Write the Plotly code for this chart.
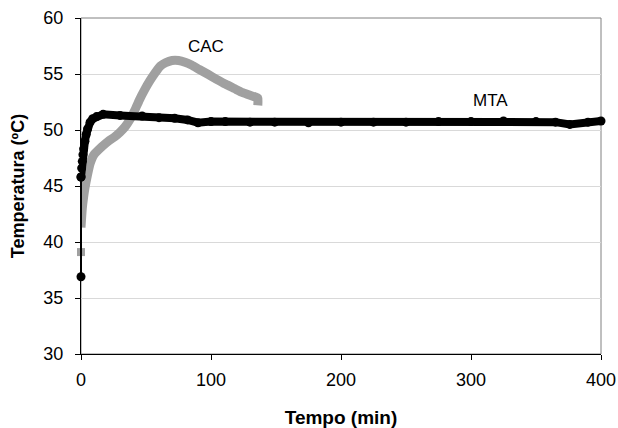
import plotly.graph_objects as go

# MTA series (time in min, temperature in °C)
mta_t = [0, 0, 0.5, 1, 1.5, 2, 3, 4, 5, 7, 9, 12, 17, 30, 47, 60, 72, 82, 90, 100, 111, 130, 149, 175, 200, 225, 250, 275, 300, 325, 350, 365, 376, 390, 400]
mta_v = [36.9, 45.8, 46.6, 47.2, 47.8, 48.3, 49.0, 49.6, 50.1, 50.7, 51.0, 51.2, 51.4, 51.3, 51.25, 51.1, 51.05, 50.9, 50.65, 50.75, 50.75, 50.7, 50.7, 50.65, 50.7, 50.7, 50.7, 50.75, 50.75, 50.8, 50.75, 50.7, 50.5, 50.7, 50.8]

# CAC series
cac_first_t = [0]
cac_first_v = [39.1]
cac_t = [0, 1, 2, 3, 5, 7, 10, 16, 21, 26, 30, 34, 38, 41.5, 45, 49, 53, 57, 61, 65, 70, 75, 80, 85, 91, 98, 104, 111, 118, 124, 130, 134, 136, 136]
cac_v = [41.3, 43.0, 44.0, 44.8, 46.0, 47.0, 47.8, 48.5, 49.0, 49.4, 49.8, 50.3, 51.0, 51.8, 52.7, 53.6, 54.4, 55.1, 55.7, 56.0, 56.2, 56.2, 56.05, 55.8, 55.4, 54.95, 54.55, 54.1, 53.7, 53.35, 53.1, 52.95, 52.85, 52.2]

x_ticks = [0, 100, 200, 300, 400]
y_ticks = [30, 35, 40, 45, 50, 55, 60]

gray = "#a0a0a0"
fig = go.Figure()
fig.add_trace(go.Scatter(x=cac_t, y=cac_v, mode="lines", cliponaxis=False,
                         line=dict(color=gray, width=9, shape="spline", smoothing=0.5), name="CAC"))
fig.add_trace(go.Scatter(x=cac_first_t, y=cac_first_v, mode="markers", cliponaxis=False,
                         marker=dict(color=gray, symbol="square", size=8), name="CAC"))
fig.add_trace(go.Scatter(x=mta_t[:2], y=mta_v[:2], mode="lines+markers", cliponaxis=False,
                         line=dict(color="black", width=2), marker=dict(color="black", size=9), name="MTA"))
fig.add_trace(go.Scatter(x=mta_t[1:], y=mta_v[1:], mode="lines+markers", cliponaxis=False,
                         line=dict(color="black", width=8), marker=dict(color="black", size=9), name="MTA"))

fig.add_annotation(x=96, y=57.5, text="CAC", showarrow=False, font=dict(size=17, color="black"))
fig.add_annotation(x=315, y=52.6, text="MTA", showarrow=False, font=dict(size=17, color="black"))

fig.add_shape(type="rect", xref="paper", yref="paper", x0=0, y0=0, x1=1, y1=1,
              line=dict(color="#808080", width=1), layer="below")

fig.update_layout(
    width=618, height=428,
    margin=dict(l=81, r=17, t=18, b=74),
    paper_bgcolor="white", plot_bgcolor="white",
    showlegend=False,
    font=dict(family="Liberation Sans, Arial", size=18, color="black"),
    xaxis=dict(range=[0, 400], tickvals=x_ticks, showgrid=False, zeroline=False,
               showline=True, linecolor="black", linewidth=1, automargin=False,
               ticks="outside", ticklen=5, tickcolor="black", ticklabelstandoff=4,
               title=dict(text="<b>Tempo (min)</b>", font=dict(size=19), standoff=22),
               tickfont=dict(size=18)),
    yaxis=dict(range=[30, 60], tickvals=y_ticks, showgrid=True, gridcolor="#d9d9d9", gridwidth=1,
               zeroline=False, showline=True, linecolor="black", linewidth=1, automargin=False,
               ticks="outside", ticklen=5, tickcolor="black", ticklabelstandoff=8,
               title=dict(text="<b>Temperatura (ºC)</b>", font=dict(size=18), standoff=14),
               tickfont=dict(size=18)),
)
fig.write_html("out.html", config={"displayModeBar": False},
               post_script="document.body.style.margin='0';document.body.style.overflow='hidden';")
